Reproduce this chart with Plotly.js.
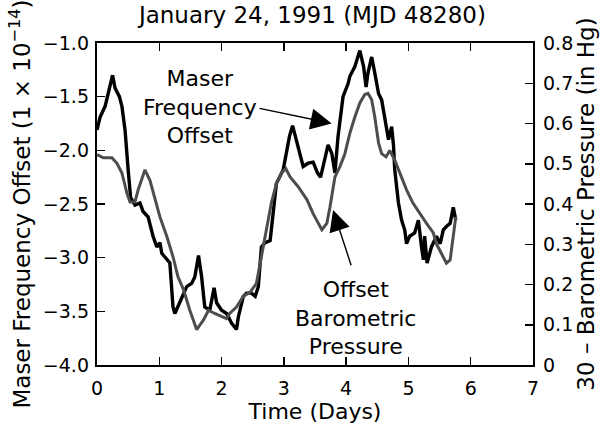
<!DOCTYPE html>
<html>
<head>
<meta charset="utf-8">
<script src="https://cdn.plot.ly/plotly-3.0.1.min.js"></script>
<style>html,body{margin:0;padding:0;background:#fff;}#chart{width:609px;height:432px;}</style>
</head>
<body>
<div id="chart"></div>
<script>
// Maser frequency offset (units of 1e-14) vs time (days)
const maserT = [0, 0.05, 0.13, 0.18, 0.25, 0.29, 0.36, 0.40, 0.45, 0.50, 0.54, 0.61, 0.69, 0.74, 0.82, 0.90, 0.96, 1.01, 1.04, 1.17, 1.22, 1.25, 1.33, 1.44, 1.52, 1.57, 1.63, 1.68, 1.73, 1.81, 1.88, 1.92, 2.00, 2.08, 2.16, 2.24, 2.27, 2.35, 2.40, 2.48, 2.54, 2.59, 2.64, 2.70, 2.78, 2.88, 2.99, 3.09, 3.14, 3.23, 3.31, 3.39, 3.47, 3.54, 3.59, 3.63, 3.71, 3.77, 3.82, 3.87, 3.91, 3.95, 4.03, 4.06, 4.14, 4.22, 4.28, 4.32, 4.35, 4.41, 4.46, 4.52, 4.57, 4.62, 4.68, 4.73, 4.76, 4.78, 4.84, 4.89, 4.94, 4.97, 5.02, 5.10, 5.16, 5.21, 5.24, 5.26, 5.30, 5.37, 5.45, 5.51, 5.56, 5.61, 5.67, 5.72, 5.76];
const maserV = [-1.81, -1.69, -1.59, -1.47, -1.30, -1.42, -1.50, -1.59, -1.81, -2.18, -2.44, -2.51, -2.49, -2.57, -2.62, -2.80, -2.90, -2.86, -2.96, -3.05, -3.46, -3.52, -3.42, -3.27, -3.24, -3.18, -2.98, -3.18, -3.46, -3.49, -3.28, -3.42, -3.49, -3.52, -3.61, -3.67, -3.55, -3.36, -3.33, -3.33, -3.36, -3.27, -2.90, -2.86, -2.84, -2.31, -2.18, -1.87, -1.77, -1.97, -2.15, -2.12, -2.11, -2.21, -2.25, -2.15, -1.95, -2.03, -2.21, -1.87, -1.66, -1.50, -1.38, -1.31, -1.22, -1.07, -1.22, -1.41, -1.28, -1.13, -1.28, -1.47, -1.53, -1.69, -1.90, -1.78, -1.95, -2.18, -2.49, -2.65, -2.74, -2.87, -2.80, -2.77, -2.65, -2.90, -3.02, -2.80, -3.05, -2.90, -2.80, -2.87, -2.74, -2.71, -2.68, -2.53, -2.65];

// 30 - barometric pressure (in Hg) vs time (days)
const presT = [0, 0.10, 0.24, 0.32, 0.40, 0.48, 0.53, 0.61, 0.66, 0.77, 0.85, 0.93, 1.01, 1.12, 1.22, 1.30, 1.39, 1.49, 1.60, 1.71, 1.79, 1.89, 2.00, 2.08, 2.13, 2.24, 2.35, 2.46, 2.56, 2.64, 2.72, 2.80, 2.88, 2.96, 3.03, 3.10, 3.23, 3.37, 3.47, 3.61, 3.69, 3.74, 3.82, 3.90, 3.98, 4.06, 4.14, 4.22, 4.30, 4.35, 4.41, 4.46, 4.52, 4.57, 4.64, 4.70, 4.78, 4.86, 4.97, 5.07, 5.18, 5.29, 5.40, 5.45, 5.53, 5.61, 5.67, 5.72, 5.76];
const presP = [0.523, 0.515, 0.515, 0.501, 0.477, 0.427, 0.405, 0.405, 0.435, 0.485, 0.459, 0.411, 0.368, 0.320, 0.269, 0.219, 0.187, 0.136, 0.088, 0.112, 0.136, 0.128, 0.120, 0.115, 0.128, 0.144, 0.171, 0.181, 0.203, 0.269, 0.336, 0.403, 0.451, 0.477, 0.488, 0.467, 0.443, 0.411, 0.376, 0.336, 0.352, 0.392, 0.467, 0.493, 0.525, 0.576, 0.616, 0.651, 0.672, 0.675, 0.659, 0.616, 0.552, 0.525, 0.517, 0.533, 0.509, 0.477, 0.435, 0.403, 0.376, 0.352, 0.328, 0.301, 0.277, 0.253, 0.261, 0.320, 0.368];

const titleText = 'January 24, 1991 (MJD 48280)';
const xTitle = 'Time (Days)';
const yTitle = 'Maser Frequency Offset (1 × 10<sup>−14</sup>)';
const y2Title = '30 – Barometric Pressure (in Hg)';
const maserLabel = 'Maser<br>Frequency<br>Offset';
const presLabel = 'Offset<br>Barometric<br>Pressure';

const traces = [
  {x: presT, y: presP, yaxis: 'y2', type: 'scatter', mode: 'lines',
   line: {color: '#4d4d4d', width: 3}, hoverinfo: 'skip'},
  {x: maserT, y: maserV, yaxis: 'y', type: 'scatter', mode: 'lines',
   line: {color: '#000000', width: 3.4}, hoverinfo: 'skip'}
];

const layout = {
  width: 609, height: 432,
  margin: {l: 97, r: 76, t: 43, b: 67, pad: 0},
  paper_bgcolor: '#fff', plot_bgcolor: '#fff',
  showlegend: false,
  font: {family: 'DejaVu Sans, sans-serif', color: '#000', size: 19},
  title: {text: titleText, font: {size: 23, color: '#000'}, x: 0.513, xanchor: 'center',
          xref: 'container', y: 0.965, yref: 'container', yanchor: 'middle'},
  xaxis: {range: [0, 7], tick0: 0, dtick: 1, ticks: 'inside', ticklen: 8, tickwidth: 1.5,
          tickcolor: '#000', showline: true, linewidth: 2.2, linecolor: '#000', mirror: 'ticks',
          showgrid: false, zeroline: false, tickfont: {size: 19}, ticklabelstandoff: 5,
          title: {text: xTitle, font: {size: 22}, standoff: 0}},
  yaxis: {range: [-4, -1], tick0: -4, dtick: 0.5, tickformat: '.1f', ticks: 'inside', ticklen: 8,
          tickwidth: 1.5, tickcolor: '#000', showline: true, linewidth: 2.2, linecolor: '#000',
          showgrid: false, zeroline: false, tickfont: {size: 19}, ticklabelstandoff: 2,
          title: {text: yTitle, font: {size: 23}, standoff: 6}},
  yaxis2: {range: [0, 0.8], tick0: 0, dtick: 0.1, overlaying: 'y', side: 'right', ticks: 'inside',
           ticklen: 8, tickwidth: 1.5, tickcolor: '#000', showline: true, linewidth: 2.2, linecolor: '#000',
           showgrid: false, zeroline: false, tickfont: {size: 19}, ticklabelstandoff: 4,
           title: {text: y2Title, font: {size: 23}, standoff: 5}},
  annotations: [
    {x: 1.654, y: -1.596, xref: 'x', yref: 'y', text: maserLabel, showarrow: false,
     font: {size: 22, color: '#000'}, align: 'center'},
    {x: 4.158, y: -3.562, xref: 'x', yref: 'y', text: presLabel, showarrow: false,
     font: {size: 22, color: '#000'}, align: 'center'},
    {x: 3.767, y: -1.749, xref: 'x', yref: 'y', ax: 2.585, ay: -1.606, axref: 'x', ayref: 'y',
     text: '', showarrow: true, arrowhead: 2, arrowsize: 3, arrowwidth: 1.4, arrowcolor: '#000', standoff: 0},
    {x: 3.79, y: -2.556, xref: 'x', yref: 'y', ax: 4.088, ay: -3.084, axref: 'x', ayref: 'y',
     text: '', showarrow: true, arrowhead: 2, arrowsize: 3, arrowwidth: 1.4, arrowcolor: '#000', standoff: 0}
  ]
};

Plotly.newPlot('chart', traces, layout, {staticPlot: true, displayModeBar: false});
</script>
</body>
</html>
